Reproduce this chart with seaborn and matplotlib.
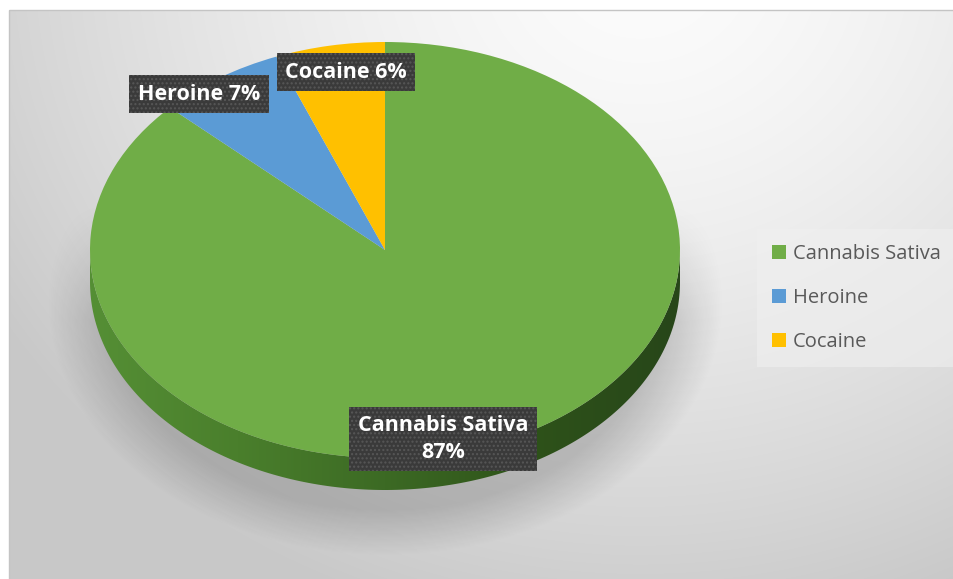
import numpy as np
import matplotlib
matplotlib.use("Agg")
import matplotlib.pyplot as plt
import seaborn as sns
from matplotlib.path import Path
from matplotlib.patches import PathPatch, Rectangle
from matplotlib.colors import LinearSegmentedColormap

# ---- data ----
labels = ["Cannabis Sativa", "Heroine", "Cocaine"]
values = [87, 7, 6]
colors = ["#70AD47", "#5B9BD5", "#FFC000"]

sns.set_theme(style="white")
plt.rcParams['font.family'] = ['Open Sans', 'DejaVu Sans']

W, H = 954, 579
fig = plt.figure(figsize=(W / 100, H / 100), dpi=100)
fig.patch.set_facecolor("white")

# ---- background (pixel coordinates) ----
bg = fig.add_axes([0, 0, 1, 1])
bg.set_xlim(0, W)
bg.set_ylim(H, 0)
bg.axis("off")
x0, y0 = 9, 10
yy, xx = np.mgrid[y0:H, x0:W].astype(float)
d = np.sqrt(((xx - 640) / 720) ** 2 + ((yy + 40) / 650) ** 2)
val = 252 - 48 * np.clip(d, 0, 1.05) ** 1.5
img = np.dstack([val, val, val]) / 255.0
bg.imshow(img, extent=[x0, W, H, y0], aspect="auto", zorder=0)
bg.add_patch(Rectangle((x0, y0), W - x0 + 5, H - y0 + 5, fill=False,
                       edgecolor="#c4c4c4", linewidth=1.0, zorder=1))

# soft shadow under the pie
sh_r = np.sqrt(((xx - 385) / 302) ** 2 + ((yy - 300) / 228) ** 2)
sh_a = 0.17 * np.clip((1.12 - sh_r) / 0.2, 0, 1)
sh_a *= np.clip((yy - 200) / 120, 0, 1)
shadow = np.zeros(sh_r.shape + (4,))
shadow[..., 3] = sh_a
bg.imshow(shadow, extent=[x0, W, H, y0], aspect="auto", zorder=2)

# ---- pie axes: squashed units so circle becomes ellipse ----
cx_px, cy_px, rx, ry, depth_px = 385, 250, 295, 208, 32
dep = depth_px / ry
ax = fig.add_axes([0, 0, 1, 1])
ax.patch.set_alpha(0)

# side (extrusion) of the pie
t = np.linspace(np.pi, 2 * np.pi, 200)
top_arc = np.column_stack([np.cos(t), np.sin(t)])
bot_arc = np.column_stack([np.cos(t[::-1]), np.sin(t[::-1]) - dep])
verts = np.vstack([top_arc, bot_arc, top_arc[:1]])
codes = [Path.MOVETO] + [Path.LINETO] * (len(verts) - 2) + [Path.CLOSEPOLY]
side = PathPatch(Path(verts, codes), facecolor="none", edgecolor="none")
ax.add_patch(side)
side_cmap = LinearSegmentedColormap.from_list(
    "side", ["#558f35", "#4a7f2c", "#3c6a24", "#2e5219", "#27461a"])
grad = np.linspace(0, 1, 256)[None, :]
im = ax.imshow(grad, cmap=side_cmap, extent=[-1, 1, -1 - dep, 0],
               aspect="auto", zorder=1)
im.set_clip_path(side)

wedges, _ = ax.pie(values, colors=colors, startangle=90, counterclock=False,
                   radius=1, center=(0, 0),
                   wedgeprops=dict(linewidth=0, zorder=3))
ax.set_aspect("auto")
ax.set_xlim(-cx_px / rx, (W - cx_px) / rx)
ax.set_ylim(-(H - cy_px) / ry, cy_px / ry)
ax.axis("off")

# ---- data labels ----
label_pos = [(443, 439), (199, 94), (346, 72)]
label_txt = [f"{labels[0]}\n{values[0]}%",
             f"{labels[1]} {values[1]}%",
             f"{labels[2]} {values[2]}%"]
for (px, py), txt in zip(label_pos, label_txt):
    fig.text(px / W, 1 - py / H, txt, ha="center", va="center",
             multialignment="center", color="white", fontsize=15.5,
             fontweight="bold", linespacing=1.35, zorder=10,
             bbox=dict(boxstyle="square,pad=0.4", facecolor="#3a3a3a",
                       edgecolor="#575757", hatch="....", linewidth=0))

# ---- legend ----
leg = fig.legend(wedges, labels, loc="center left",
                 bbox_to_anchor=(757 / W, 1 - 298 / H),
                 frameon=True, facecolor="#f0f0f0", edgecolor="none",
                 framealpha=0.6, fancybox=False,
                 handlelength=0.7, handleheight=0.7, handletextpad=0.35,
                 labelspacing=1.2, fontsize=14.5, labelcolor="#595959",
                 borderpad=0.75, borderaxespad=0)

fig.savefig("out.png", dpi=100)
